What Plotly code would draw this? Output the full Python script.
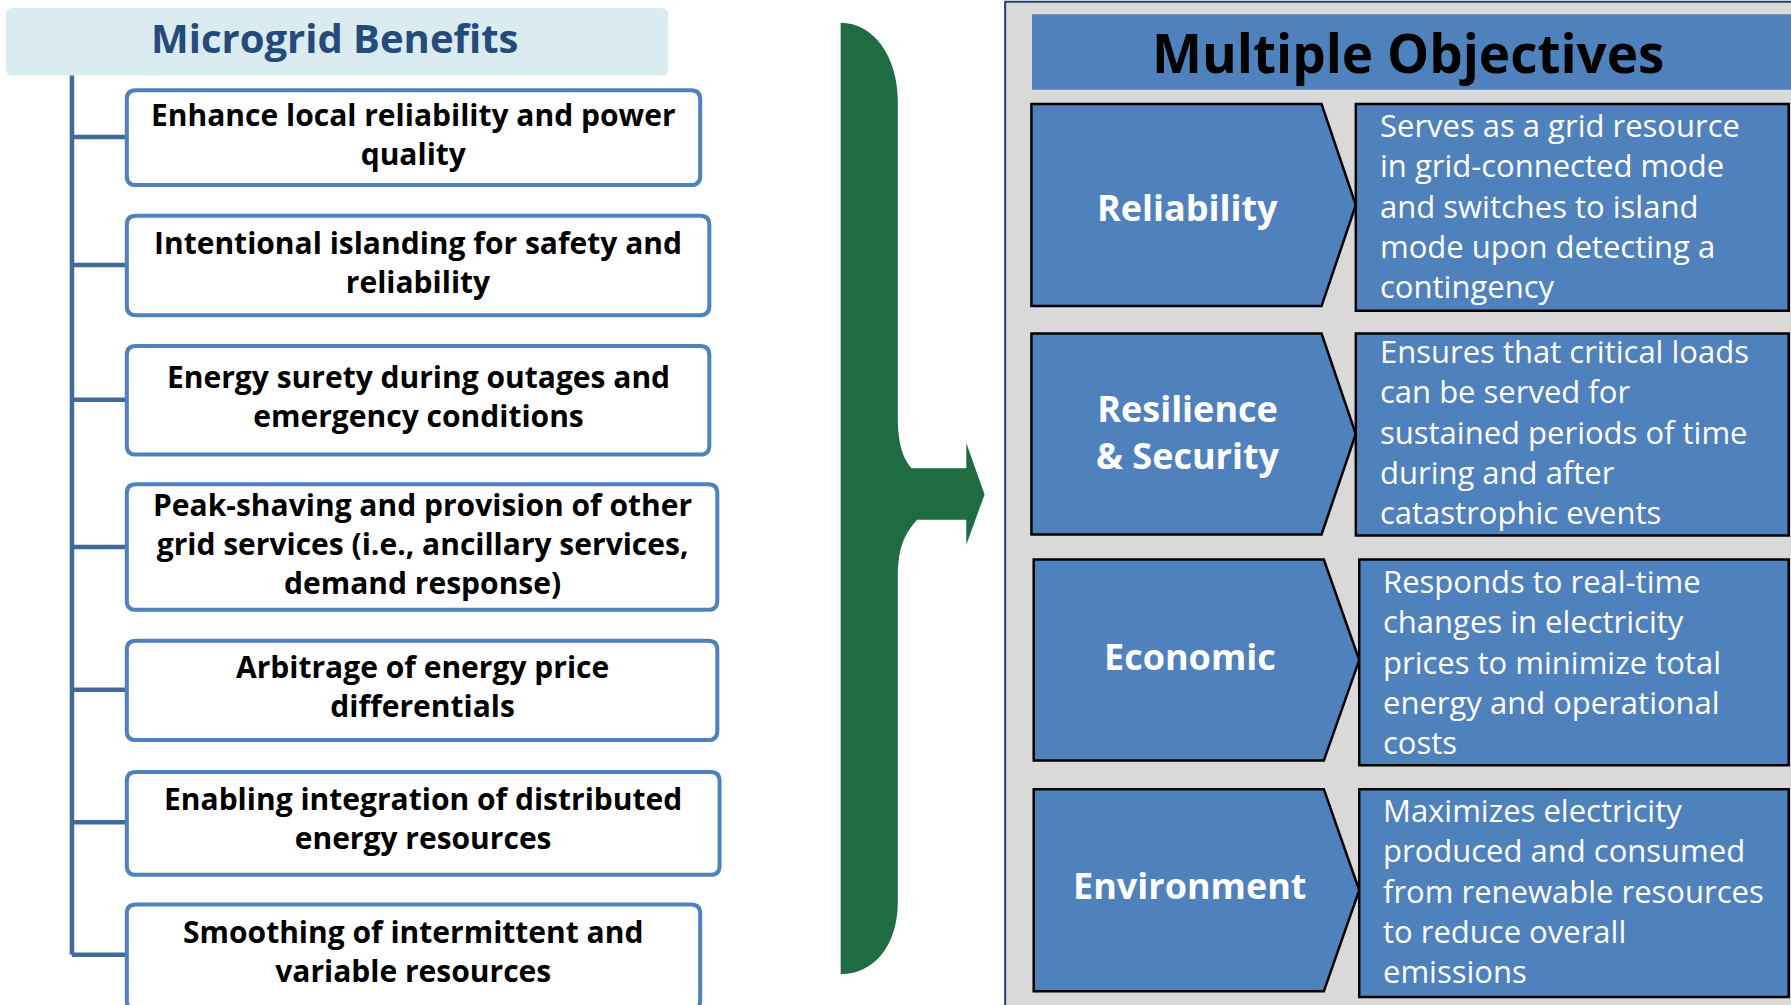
import plotly.graph_objects as go

# ---------------- data (text content) ----------------
left_title = "Microgrid Benefits"
benefits = [
    "Enhance local reliability and power<br>quality",
    "Intentional islanding for safety and<br>reliability",
    "Energy surety during outages and<br>emergency conditions",
    "Peak-shaving and provision of other<br>grid services (i.e., ancillary services,<br>demand response)",
    "Arbitrage of energy price<br>differentials",
    "Enabling integration of distributed<br>energy resources",
    "Smoothing of intermittent and<br>variable resources",
]
right_title = "Multiple Objectives"
objectives = ["Reliability", "Resilience<br>& Security", "Economic", "Environment"]
descriptions = [
    "Serves as a grid resource<br>in grid-connected mode<br>and switches to island<br>mode upon detecting a<br>contingency",
    "Ensures that critical loads<br>can be served for<br>sustained periods of time<br>during and after<br>catastrophic events",
    "Responds to real-time<br>changes in electricity<br>prices to minimize total<br>energy and operational<br>costs",
    "Maximizes electricity<br>produced and consumed<br>from renewable resources<br>to reduce overall<br>emissions",
]

# ---------------- layout geometry (canvas units) ----------------
W, H = 1568, 880
box_x0 = 111
box_x1 = [613, 621, 621, 628, 628, 630, 613]
box_y0 = [79, 189, 303, 424, 561, 676, 792]
box_y1 = [162, 276, 398, 534, 648, 766, 884]
text_y = [117, 229, 347, 476, 601, 716, 833]
branch_y = [120, 232, 350, 479, 604, 720, 836]
tree_x = 63

row_y0 = [91, 292, 490, 691]
row_y1 = [268, 468, 666, 868]
rect_y1 = [272, 469, 670, 873]
chev_x0 = [903, 903, 905, 905]
chev_notch = [1157, 1157, 1159, 1159]
chev_tip = [1187, 1187, 1190, 1190]
label_y = [182, 378, 575, 775]
desc_y = [180, 378, 579, 780]

FONT = "Open Sans, sans-serif"
BLUE = "#4F81BD"


def rrect(x0, y0, x1, y1, r):
    return (f"M {x0+r},{y0} L {x1-r},{y0} Q {x1},{y0} {x1},{y0+r} "
            f"L {x1},{y1-r} Q {x1},{y1} {x1-r},{y1} L {x0+r},{y1} "
            f"Q {x0},{y1} {x0},{y1-r} L {x0},{y0+r} Q {x0},{y0} {x0+r},{y0} Z")


shapes = []
ann = []

# left header
shapes.append(dict(type="path", path=rrect(5, 7, 585, 66, 6),
                   fillcolor="#DAECEF", line=dict(width=0)))
ann.append(dict(x=293, y=33, text=f"<b>{left_title}</b>",
                font=dict(family=FONT, size=40, color="#254A7C")))

# tree lines
shapes.append(dict(type="line", x0=tree_x, x1=tree_x, y0=66, y1=branch_y[-1],
                   line=dict(color="#41699B", width=4.5)))
for by in branch_y:
    shapes.append(dict(type="line", x0=tree_x, x1=box_x0, y0=by, y1=by,
                       line=dict(color="#41699B", width=4.5)))

# benefit boxes
for i, txt in enumerate(benefits):
    shapes.append(dict(type="path", path=rrect(box_x0, box_y0[i], box_x1[i], box_y1[i], 8),
                       fillcolor="white", line=dict(color=BLUE, width=4)))
    ann.append(dict(x=(box_x0 + box_x1[i]) / 2, y=text_y[i], text=f"<b>{txt}</b>",
                    font=dict(family=FONT, size=30, color="black")))

# green brace arrow
brace = ("M 736,20 C 765,20 786,50 786,88 L 786,365 "
         "C 786,390 791,402 798,410 L 846,410 L 846,388 L 862,433 L 846,477 "
         "L 846,455 L 803,455 C 793,466 786,478 786,505 L 786,790 "
         "C 786,828 765,853 736,853 Z")
shapes.append(dict(type="path", path=brace, fillcolor="#1F6C43", line=dict(width=0)))

# right panel
shapes.append(dict(type="rect", x0=880, x1=W + 5, y0=1.5, y1=H + 5,
                   fillcolor="#D9D9D9", line=dict(color="#23406E", width=2)))
shapes.append(dict(type="rect", x0=903.5, x1=W + 5, y0=12.5, y1=78.5,
                   fillcolor=BLUE, line=dict(width=0)))
ann.append(dict(x=1233, y=46, text=f"<b>{right_title}</b>",
                font=dict(family=FONT, size=53, color="black")))

for i in range(4):
    y0, y1 = row_y0[i], row_y1[i]
    ym = (y0 + y1) / 2
    path = (f"M {chev_x0[i]},{y0} L {chev_notch[i]},{y0} L {chev_tip[i]},{ym} "
            f"L {chev_notch[i]},{y1} L {chev_x0[i]},{y1} Z")
    shapes.append(dict(type="path", path=path, fillcolor=BLUE,
                       line=dict(color="black", width=2.5)))
    shapes.append(dict(type="rect", x0=chev_tip[i], x1=W - 2, y0=y0, y1=rect_y1[i],
                       fillcolor=BLUE, line=dict(color="black", width=2.5)))
    ann.append(dict(x=(chev_x0[i] + chev_notch[i]) / 2 + 10, y=label_y[i],
                    text=f"<b>{objectives[i]}</b>",
                    font=dict(family=FONT, size=36, color="white")))
    ann.append(dict(x=chev_tip[i] + 19, y=desc_y[i], text=descriptions[i],
                    xanchor="left", align="left",
                    font=dict(family=FONT, size=31, color="white")))

for a in ann:
    a.setdefault("xanchor", "center")
    a.setdefault("align", "center")
    a.update(xref="x", yref="y", yanchor="middle", showarrow=False)

fig = go.Figure()
fig.update_layout(
    width=1791, height=1005,
    margin=dict(l=0, r=0, t=0, b=0),
    paper_bgcolor="white", plot_bgcolor="white",
    xaxis=dict(range=[0, W], visible=False, fixedrange=True),
    yaxis=dict(range=[H, 0], visible=False, fixedrange=True),
    shapes=shapes, annotations=ann, showlegend=False,
)
fig.write_html("out.html", config={"displayModeBar": False},
               post_script="document.body.style.margin='0';document.body.style.overflow='hidden';")
